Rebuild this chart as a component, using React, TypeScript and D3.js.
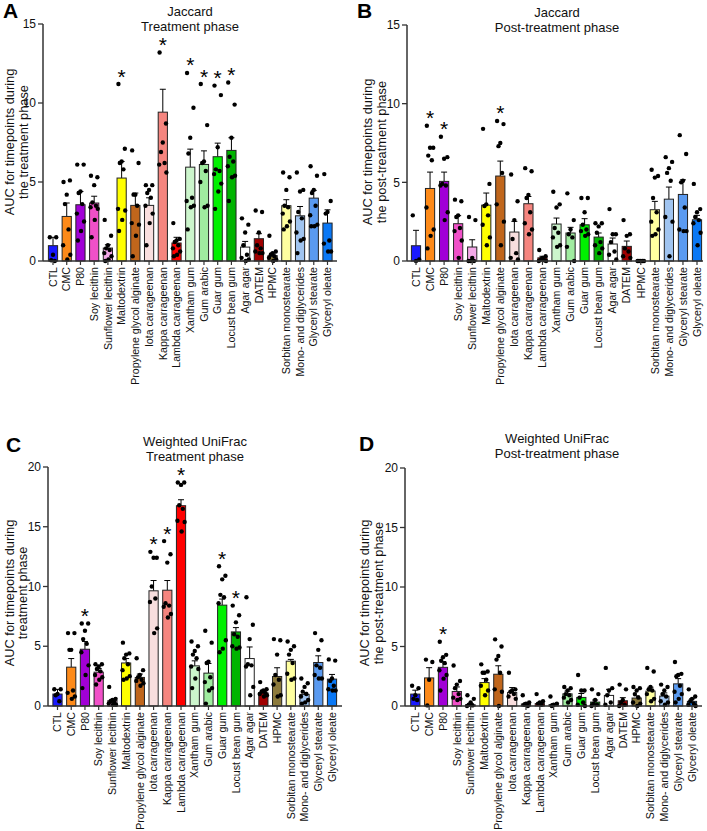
import React from 'react';
import * as d3 from 'd3';

const categories = [
  'CTL', 'CMC', 'P80', 'Soy lecithin', 'Sunflower lecithin', 'Maltodextrin',
  'Propylene glycol alginate', 'Iota carrageenan', 'Kappa carrageenan', 'Lambda carrageenan',
  'Xantham gum', 'Gum arabic', 'Guar gum', 'Locust bean gum', 'Agar agar', 'DATEM', 'HPMC',
  'Sorbitan monostearate', 'Mono- and diglycerides', 'Glyceryl stearate', 'Glyceryl oleate',
];

const barColors = [
  '#1a1aff', '#fd8a19', '#a100d6', '#f050c8', '#f4a8e8', '#ffff00',
  '#c0661c', '#f8dede', '#f5857f', '#ff0000',
  '#ccf5cc', '#a0eca0', '#00f000', '#00b400', '#ffffff', '#a00000', '#8c7a3c',
  '#ffffa0', '#a0c4f0', '#5a9af0', '#0a78f5',
];

// Panel A: Jaccard, treatment phase
const jacTreatMean = [0.97, 2.82, 3.56, 3.67, 0.82, 5.25, 3.52, 3.52, 9.42, 1.14, 5.94, 6.11, 6.6, 7.0, 0.88, 1.41, 0.34, 3.5, 2.86, 3.98, 2.4];
const jacTreatSem = [0.53, 0.85, 0.84, 0.43, 0.21, 1.05, 0.78, 0.48, 1.45, 0.36, 1.14, 0.86, 0.86, 0.8, 0.36, 0.32, 0.16, 0.38, 0.59, 0.49, 0.84];
const jacTreatPoints = [
  [1.5, 1.5, 0.4, 0.05, 0.0],
  [5.0, 5.1, 4.2, 3.6, 2.0, 1.0, 0.4, 0.1],
  [6.1, 6.1, 4.4, 4.3, 3.6, 3.0, 2.5, 1.9, 1.3],
  [5.4, 5.3, 4.8, 3.7, 3.5, 3.4, 3.3, 2.6, 1.5],
  [2.6, 1.6, 1.0, 0.8, 0.7, 0.5, 0.3, 0.1, 0.0],
  [11.2, 7.1, 6.3, 6.2, 5.8, 3.3, 3.2, 2.6, 1.9],
  [7.0, 6.2, 4.2, 4.2, 3.5, 2.4, 2.3, 1.6, 0.3],
  [4.8, 4.8, 4.5, 4.3, 4.0, 3.5, 3.0, 2.4, 1.0],
  [13.2, 8.7, 7.5, 6.9, 6.2, 6.1, 5.6],
  [2.4, 1.4, 1.3, 1.2, 1.0, 0.8, 0.6, 0.4, 0.3],
  [11.9, 9.7, 7.8, 6.8, 4.0, 3.8, 3.5, 3.4, 2.0],
  [11.2, 8.6, 6.3, 6.2, 5.7, 5.0, 3.5, 3.4],
  [11.1, 10.5, 7.2, 5.8, 5.7, 5.5, 4.9, 4.4, 3.3],
  [11.3, 9.9, 7.8, 6.6, 6.3, 6.0, 5.4, 5.3, 3.8],
  [2.7, 2.3, 1.8, 1.0, 0.4, 0.2, 0.1, 0.0],
  [3.2, 3.1, 1.8, 1.0, 0.8, 0.6, 0.5, 0.5],
  [1.6, 0.6, 0.5, 0.4, 0.3, 0.2, 0.1, 0.0],
  [5.6, 5.3, 4.5, 3.5, 3.4, 3.0, 2.5, 2.2, 2.0],
  [5.6, 4.5, 4.4, 3.1, 2.7, 1.8, 1.4, 1.3, 0.5],
  [6.0, 5.4, 4.5, 4.3, 3.5, 2.9, 2.3, 2.2, 2.2],
  [5.5, 3.8, 3.1, 3.0, 1.3, 1.1, 0.6, 0.6],
];
const jacTreatStars = [5, 8, 10, 11, 12, 13];

// Panel B: Jaccard, post-treatment phase
const jacPostMean = [0.97, 4.61, 5.06, 2.37, 0.89, 3.55, 5.4, 1.84, 3.64, 0.2, 2.35, 1.78, 2.3, 1.52, 1.08, 0.93, 0.02, 3.26, 3.93, 4.23, 2.62];
const jacPostSem = [0.98, 1.04, 0.59, 0.51, 0.46, 0.77, 0.95, 0.68, 0.46, 0.1, 0.38, 0.36, 0.39, 0.26, 0.38, 0.34, 0.02, 0.53, 0.77, 0.93, 0.28];
const jacPostPoints = [
  [2.9, 0.1, 0.0],
  [8.6, 7.2, 7.2, 6.7, 6.4, 3.4, 2.0, 1.6, 0.8],
  [7.9, 6.6, 6.5, 4.9, 4.8, 4.8, 3.1, 2.6],
  [3.9, 3.8, 2.9, 2.8, 2.1, 1.9, 1.3, 0.2],
  [2.8, 2.6, 0.2, 0.0, 0.0, 0.0],
  [8.4, 4.9, 3.6, 3.5, 2.9, 2.3, 1.5, 1.0],
  [8.9, 8.7, 7.5, 7.3, 5.6, 3.6, 2.5, 1.0],
  [5.5, 3.8, 2.6, 1.4, 0.5, 0.2, 0.1],
  [5.9, 5.7, 4.2, 4.0, 3.1, 2.4, 2.0, 1.7],
  [0.7, 0.3, 0.2, 0.1, 0.05, 0.0, 0.0],
  [4.4, 3.6, 3.4, 2.1, 1.8, 1.5, 1.0, 0.9],
  [4.3, 2.6, 2.0, 1.7, 1.5, 0.9, 0.0],
  [4.0, 4.0, 3.1, 2.3, 2.0, 1.9, 1.7, 1.6],
  [2.4, 2.4, 2.2, 1.8, 1.2, 1.0, 0.8, 0.5],
  [3.3, 1.7, 1.7, 1.2, 0.6, 0.4, 0.1],
  [2.6, 1.7, 1.6, 0.8, 0.6, 0.3, 0.2],
  [0.0, 0.0, 0.0, 0.0, 0.0],
  [5.8, 5.4, 5.3, 4.0, 3.1, 2.5, 2.0, 1.7, 1.6],
  [6.6, 6.3, 5.9, 5.6, 5.1, 2.8, 2.5, 0.3],
  [8.0, 6.8, 5.1, 5.0, 3.4, 2.0, 1.9, 1.9],
  [4.9, 3.3, 3.1, 2.8, 2.6, 2.4, 1.8, 1.0],
];
const jacPostStars = [1, 2, 6];

// Panel C: Weighted UniFrac, treatment phase
const wufTreatMean = [1.0, 3.25, 4.75, 2.83, 0.44, 3.6, 2.39, 9.64, 9.69, 16.76, 3.36, 2.75, 8.44, 6.2, 3.97, 1.1, 2.47, 3.75, 0.97, 3.64, 2.25];
const wufTreatSem = [0.39, 0.72, 0.65, 0.31, 0.11, 0.37, 0.28, 0.86, 0.81, 0.5, 0.42, 0.81, 0.51, 0.36, 0.97, 0.23, 0.73, 0.15, 0.17, 0.56, 0.39];
const wufTreatPoints = [
  [1.4, 1.4, 1.0, 0.9, 0.4],
  [6.1, 6.1, 4.7, 4.7, 1.3, 1.1, 0.8, 0.6],
  [6.9, 6.9, 6.3, 5.6, 5.2, 4.5, 3.4, 2.6, 1.5],
  [3.5, 3.5, 3.3, 3.1, 2.9, 2.6, 2.4, 2.2, 1.8],
  [1.6, 0.6, 0.5, 0.4, 0.3, 0.2, 0.1, 0.1],
  [5.3, 4.4, 4.3, 4.0, 3.5, 3.0, 2.5, 2.3, 2.2],
  [4.0, 3.0, 2.6, 2.4, 2.2, 2.1, 1.9, 1.7],
  [12.9, 12.4, 12.4, 10.0, 9.0, 8.7, 6.5, 6.1],
  [13.8, 12.7, 12.0, 8.6, 8.4, 8.3, 7.7, 7.4],
  [18.7, 18.7, 18.5, 16.8, 16.5, 15.5, 15.4, 14.6],
  [5.4, 5.0, 4.6, 4.3, 4.0, 3.3, 3.1, 2.3, 1.5],
  [6.3, 5.3, 3.7, 3.6, 2.4, 2.0, 1.5, 1.3, 0.2],
  [11.7, 10.9, 10.6, 9.3, 9.1, 8.6, 5.5, 4.8, 4.5],
  [8.4, 7.6, 7.0, 6.0, 5.8, 5.0, 4.9, 4.8],
  [9.1, 6.8, 5.6, 3.5, 3.4, 3.3, 1.6, 0.9],
  [2.0, 1.4, 1.3, 1.2, 1.1, 1.0, 0.9, 0.8],
  [5.6, 5.5, 4.3, 2.6, 2.2, 1.8, 0.9, 0.8],
  [5.4, 5.0, 4.7, 4.3, 3.6, 2.7, 2.3, 2.2],
  [2.3, 1.9, 1.6, 1.2, 1.0, 0.8, 0.5, 0.3, 0.2],
  [6.1, 5.5, 4.7, 3.4, 3.2, 2.6, 2.3, 2.3],
  [3.9, 3.8, 2.3, 2.1, 1.7, 1.4, 1.3, 1.3],
];
const wufTreatStars = [2, 7, 8, 9, 12, 13];

// Panel D: Weighted UniFrac, post-treatment phase
const wufPostMean = [1.0, 2.36, 3.25, 1.22, 0.1, 1.97, 2.67, 1.14, 0.17, 0.2, 0.12, 1.02, 0.72, 0.33, 0.89, 0.44, 0.67, 1.25, 0.83, 1.86, 0.39];
const wufPostSem = [0.33, 0.86, 0.47, 0.38, 0.1, 0.33, 0.71, 0.41, 0.08, 0.08, 0.08, 0.23, 0.33, 0.17, 0.51, 0.26, 0.19, 0.33, 0.27, 0.44, 0.21];
const wufPostPoints = [
  [1.7, 1.5, 0.9, 0.6, 0.5],
  [3.9, 3.7, 2.2, 0.05],
  [5.4, 4.3, 4.1, 3.8, 3.6, 3.0, 2.6, 2.3, 1.3],
  [3.4, 2.1, 1.8, 1.5, 1.0, 0.7, 0.6, 0.5],
  [0.9, 0.6, 0.3, 0.1, 0.05, 0.0],
  [3.5, 2.9, 2.8, 2.8, 2.2, 1.7, 1.3, 0.9],
  [5.6, 5.0, 4.2, 3.9, 2.8, 1.4, 1.2, 0.0],
  [2.8, 1.4, 1.3, 1.2, 1.0, 0.8, 0.6],
  [0.9, 0.3, 0.2, 0.1, 0.0],
  [1.0, 0.4, 0.3, 0.2, 0.1],
  [0.8, 0.2, 0.1, 0.0],
  [1.6, 1.5, 1.3, 1.0, 0.9, 0.7, 0.5, 0.3],
  [2.6, 1.3, 1.3, 0.7, 0.3, 0.1, 0.0],
  [1.4, 1.0, 0.5, 0.2, 0.1, 0.0],
  [3.2, 1.5, 1.3, 0.9, 0.3, 0.1],
  [1.8, 1.4, 0.5, 0.3, 0.1, 0.0],
  [1.6, 1.5, 1.3, 1.0, 0.7, 0.3, 0.2, 0.0],
  [3.2, 2.9, 1.6, 1.4, 1.3, 1.0, 0.6, 0.4],
  [1.8, 1.6, 1.3, 1.0, 0.8, 0.4, 0.3, 0.1],
  [3.7, 2.7, 2.6, 2.5, 1.7, 1.2, 1.0, 0.6, 0.3],
  [1.4, 0.8, 0.6, 0.4, 0.2, 0.1, 0.0],
];
const wufPostStars = [2];

const FONT = 'Liberation Sans, Arial, Helvetica, sans-serif';
const jitter = [-3.2, 3.2, 0, -1.8, 1.8, -3.6, 3.6, 0.6, -2.6, 2.6];

type Cfg = {
  letter: string; lx: number; ly: number;
  title: string[]; tx: number; ty: number[];
  ylab: string[]; ylx: number[]; yly: number;
  axisX: number; xFirst: number; xLast: number; xEnd: number;
  yTop: number; yBottom: number; yMax: number;
};

function Panel({ cfg, means, sems, points, stars }: { cfg: Cfg; means: number[]; sems: number[]; points: number[][]; stars: number[] }) {
  const x = d3.scalePoint<string>().domain(categories).range([cfg.xFirst, cfg.xLast]);
  const y = d3.scaleLinear().domain([0, cfg.yMax]).range([cfg.yBottom, cfg.yTop]);
  const ticks = d3.range(0, cfg.yMax + 0.001, 5);
  const bw = 9.2;
  const capW = 3;
  return (
    <g fontFamily={FONT}>
      <text x={cfg.lx} y={cfg.ly} fontSize={21} fontWeight="bold" fill="#000">{cfg.letter}</text>
      {cfg.title.map((t, i) => (
        <text key={i} x={cfg.tx} y={cfg.ty[i]} fontSize={13} textAnchor="middle" fill="#111">{t}</text>
      ))}
      {cfg.ylab.map((t, i) => (
        <text key={i} transform={`translate(${cfg.ylx[i]},${cfg.yly}) rotate(-90)`} dy="0.35em" fontSize={12.8} textAnchor="middle" fill="#111">{t}</text>
      ))}
      {categories.map((c, i) => {
        const cx = x(c)!;
        const top = y(means[i]);
        const et = y(means[i] + sems[i]);
        return (
          <g key={c}>
            <line x1={cx} x2={cx} y1={top} y2={et} stroke="#000" strokeWidth={1} />
            <line x1={cx - capW} x2={cx + capW} y1={et} y2={et} stroke="#000" strokeWidth={1} />
            <rect x={cx - bw / 2} y={top} width={bw} height={Math.max(0, cfg.yBottom - top)} fill={barColors[i]} stroke="#222" strokeWidth={1} />
          </g>
        );
      })}
      {categories.map((c, i) => (
        <g key={'p' + c}>
          {points[i].map((v, j) => (
            <circle key={j} cx={x(c)! + jitter[j % jitter.length]} cy={y(v)} r={2.2} fill="#000" />
          ))}
        </g>
      ))}
      {stars.map((i) => {
        const c = categories[i];
        const top = Math.max(d3.max(points[i]) ?? 0, means[i] + sems[i]);
        return (
          <text key={'s' + i} x={x(c)!} y={y(top) - 0.5} fontSize={21} textAnchor="middle" fill="#000">*</text>
        );
      })}
      <line x1={cfg.axisX} x2={cfg.axisX} y1={cfg.yTop} y2={cfg.yBottom} stroke="#333" strokeWidth={1.5} />
      {ticks.map((t) => (
        <g key={t}>
          <line x1={cfg.axisX - 5} x2={cfg.axisX} y1={y(t)} y2={y(t)} stroke="#333" strokeWidth={1.3} />
          <text x={cfg.axisX - 7} y={y(t)} dy="0.35em" fontSize={12} textAnchor="end" fill="#111">{t}</text>
        </g>
      ))}
      <line x1={cfg.axisX} x2={cfg.xEnd} y1={cfg.yBottom} y2={cfg.yBottom} stroke="#333" strokeWidth={1.5} />
      {categories.map((c) => (
        <g key={'x' + c}>
          <line x1={x(c)!} x2={x(c)!} y1={cfg.yBottom} y2={cfg.yBottom + 4} stroke="#333" strokeWidth={1.2} />
          <text transform={`translate(${x(c)!},${cfg.yBottom + 6}) rotate(-90)`} dy="0.35em" fontSize={10.6} textAnchor="end" fill="#111">{c}</text>
        </g>
      ))}
    </g>
  );
}

const cfgA: Cfg = {
  letter: 'A', lx: 3, ly: 18, title: ['Jaccard', 'Treatment phase'], tx: 190, ty: [16, 31],
  ylab: ['AUC for timepoints during', 'the treatment phase'], ylx: [10, 24], yly: 142,
  axisX: 43, xFirst: 53, xLast: 327.5, xEnd: 337, yTop: 24, yBottom: 261, yMax: 15,
};
const cfgB: Cfg = {
  letter: 'B', lx: 357, ly: 18, title: ['Jaccard', 'Post-treatment phase'], tx: 557, ty: [17, 32],
  ylab: ['AUC for timepoints during', 'the post-treatment phase'], ylx: [368, 382], yly: 152,
  axisX: 407, xFirst: 416, xLast: 697, xEnd: 703, yTop: 25, yBottom: 261, yMax: 15,
};
const cfgC: Cfg = {
  letter: 'C', lx: 6, ly: 452, title: ['Weighted UniFrac', 'Treatment phase'], tx: 195, ty: [446, 461],
  ylab: ['AUC for timepoints during', 'treatment phase'], ylx: [10, 23], yly: 593,
  axisX: 48, xFirst: 57.5, xLast: 332, xEnd: 342, yTop: 467, yBottom: 706, yMax: 20,
};
const cfgD: Cfg = {
  letter: 'D', lx: 359, ly: 451, title: ['Weighted UniFrac', 'Post-treatment phase'], tx: 557, ty: [443, 458],
  ylab: ['AUC for timepoints during', 'the post-treatment phase'], ylx: [365, 379], yly: 593,
  axisX: 405, xFirst: 415.3, xLast: 692, xEnd: 702, yTop: 468, yBottom: 706, yMax: 20,
};

export default function App() {
  return (
    <svg width={707} height={831} viewBox="0 0 707 831" style={{ position: 'absolute', left: 0, top: 0, background: '#fff' }}>
      <rect width={707} height={831} fill="#fff" />
      <Panel cfg={cfgA} means={jacTreatMean} sems={jacTreatSem} points={jacTreatPoints} stars={jacTreatStars} />
      <Panel cfg={cfgB} means={jacPostMean} sems={jacPostSem} points={jacPostPoints} stars={jacPostStars} />
      <Panel cfg={cfgC} means={wufTreatMean} sems={wufTreatSem} points={wufTreatPoints} stars={wufTreatStars} />
      <Panel cfg={cfgD} means={wufPostMean} sems={wufPostSem} points={wufPostPoints} stars={wufPostStars} />
    </svg>
  );
}
